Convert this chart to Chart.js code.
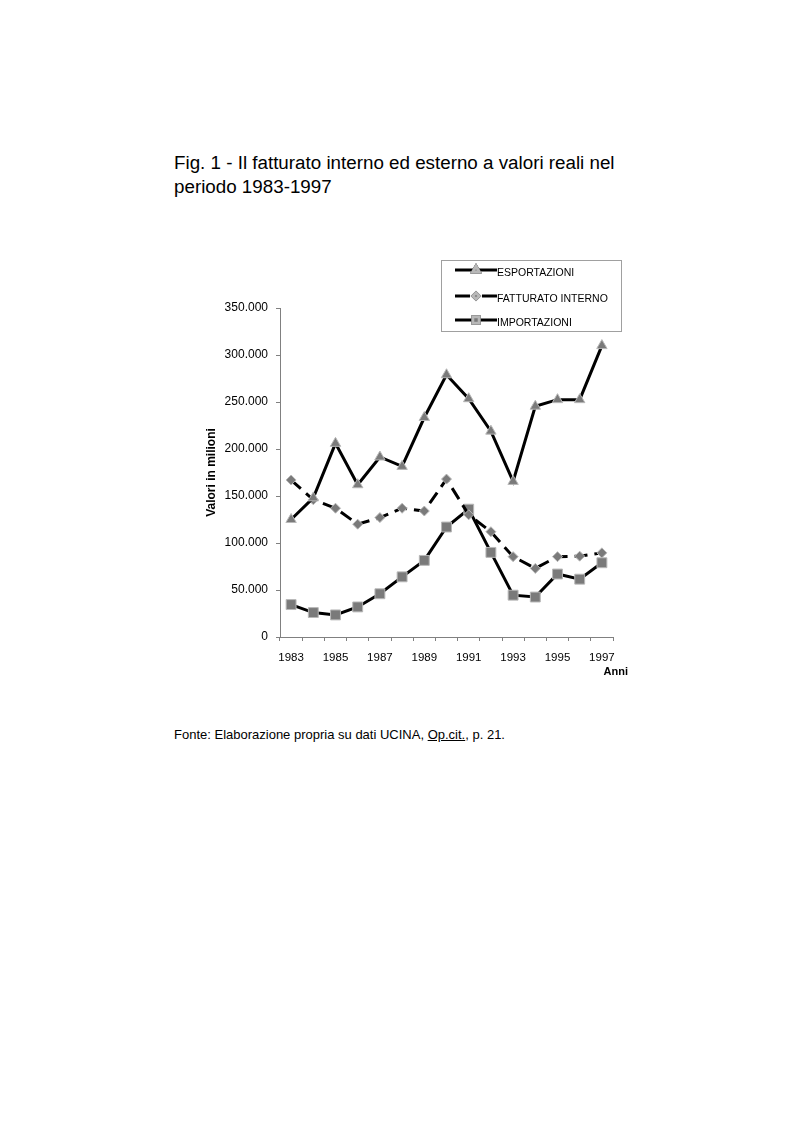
<!DOCTYPE html>
<html>
<head>
<meta charset="utf-8">
<script src="https://cdn.jsdelivr.net/npm/chart.js@4.4.0/dist/chart.umd.min.js"></script>
<style>
  html, body { margin: 0; padding: 0; background: #fff; }
  body { width: 793px; height: 1123px; position: relative; font-family: "Liberation Sans", Arial, sans-serif; color: #000; }
  #title { position: absolute; left: 174px; top: 151px; font-size: 18.8px; line-height: 24px; }
  #source { position: absolute; left: 174px; top: 727px; font-size: 13px; }
  #wrap { position: absolute; left: 190px; top: 250px; width: 440px; height: 440px; }
</style>
</head>
<body>
<div id="title">Fig. 1 - Il fatturato interno ed esterno a valori reali nel<br>periodo 1983-1997</div>
<div id="wrap"><canvas id="c" width="440" height="440"></canvas></div>
<div id="source">Fonte: Elaborazione propria su dati UCINA, <u>Op.cit.</u>, p. 21.</div>
<script>
const years = ["1983","1984","1985","1986","1987","1988","1989","1990","1991","1992","1993","1994","1995","1996","1997"];
const esportazioni = [125000,148000,206000,162000,191500,181500,233500,279000,253500,219000,165500,245500,252500,252500,310000];
const fatturatoInterno = [167000,146000,137000,120000,127000,137000,134000,168000,130000,112000,85500,73000,85500,86000,89500];
const importazioni = [34500,26000,23500,32000,46000,64000,81500,117000,136000,90000,44500,42500,67000,61500,79000];
const yTicks = [0,50000,100000,150000,200000,250000,300000,350000];

function fmt(v){ return v === 0 ? "0" : v.toString().replace(/\B(?=(\d{3})+(?!\d))/g, "."); }

const legendPlugin = {
  id: 'customLegend',
  afterDraw(chart) {
    const ctx = chart.ctx;
    const bx = 441 - 190, by = 260 - 250, bw = 180, bh = 71;
    ctx.save();
    ctx.strokeStyle = '#a0a0a0';
    ctx.lineWidth = 1;
    ctx.strokeRect(bx + 0.5, by + 0.5, bw, bh);
    const rows = [270, 296, 320];
    chart.data.datasets.forEach((ds, i) => {
      const y = rows[i] - 250;
      const x0 = 455 - 190, x1 = 497 - 190, xm = (x0 + x1) / 2;
      ctx.strokeStyle = ds.borderColor;
      ctx.lineWidth = ds.borderWidth;
      ctx.beginPath();
      if (ds.borderDash) {
        ctx.moveTo(x0, y); ctx.lineTo(xm - 6, y);
        ctx.moveTo(xm + 6, y); ctx.lineTo(x1, y);
      } else {
        ctx.moveTo(x0, y); ctx.lineTo(x1, y);
      }
      ctx.stroke();
      Chart.helpers.drawPoint(ctx, {
        pointStyle: ds.pointStyle, radius: ds.pointRadius * 0.65, borderWidth: 1
      }, xm, y);
      ctx.fillStyle = ds.pointBackgroundColor;
      ctx.strokeStyle = ds.pointBorderColor;
      ctx.fill(); ctx.stroke();
      ctx.fillStyle = '#000';
      ctx.font = '10.5px "Liberation Sans", Arial, sans-serif';
      ctx.textBaseline = 'middle';
      ctx.textAlign = 'left';
      ctx.fillText(ds.label, x1, y + 3);
    });
    ctx.font = 'bold 11px "Liberation Sans", Arial, sans-serif';
    ctx.textAlign = 'right';
    ctx.textBaseline = 'middle';
    ctx.fillStyle = '#000';
    ctx.fillText('Anni', 628 - 190, 672 - 250);
    ctx.restore();
  }
};

const ptCommon = { pointBackgroundColor: '#7a7a7a', pointBorderColor: '#b8b8b8', pointBorderWidth: 1, borderColor: '#000', borderWidth: 3, tension: 0, fill: false };

new Chart(document.getElementById('c'), {
  type: 'line',
  data: {
    labels: years,
    datasets: [
      Object.assign({ label: 'ESPORTAZIONI', data: esportazioni, pointStyle: 'triangle', pointRadius: 6 }, ptCommon),
      Object.assign({ label: 'FATTURATO INTERNO', data: fatturatoInterno, pointStyle: 'rectRot', pointRadius: 5, borderDash: [13, 7] }, ptCommon),
      Object.assign({ label: 'IMPORTAZIONI', data: importazioni, pointStyle: 'rect', pointRadius: 7 }, ptCommon)
    ]
  },
  options: {
    responsive: false,
    animation: false,
    devicePixelRatio: 1,
    layout: { padding: { top: 58, right: 17, bottom: 13, left: 0 } },
    plugins: { legend: { display: false }, tooltip: { enabled: false } },
    scales: {
      x: {
        type: 'category',
        offset: true,
        grid: { offset: true, drawOnChartArea: false, drawTicks: true, tickLength: 4, color: '#808080' },
        border: { color: '#808080', width: 1 },
        ticks: {
          autoSkip: false, maxRotation: 0, color: '#000', padding: 10,
          font: { family: '"Liberation Sans", Arial, sans-serif', size: 11.5 },
          callback: function(v, i) { return i % 2 === 0 ? this.getLabelForValue(v) : ''; }
        },
        afterFit(s) { s.height = 40; }
      },
      y: {
        min: 0, max: 350000,
        afterBuildTicks(s) { s.ticks = yTicks.map(v => ({ value: v })); },
        grid: { drawOnChartArea: false, drawTicks: true, tickLength: 4, color: '#808080' },
        border: { color: '#808080', width: 1 },
        ticks: {
          color: '#000', padding: 8,
          font: { family: '"Liberation Sans", Arial, sans-serif', size: 12 },
          callback: v => fmt(v)
        },
        title: {
          display: true, text: 'Valori in milioni', color: '#000',
          font: { family: '"Liberation Sans", Arial, sans-serif', size: 12, weight: 'bold' },
          padding: { top: 14, bottom: 0 }
        },
        afterFit(s) { s.width = 90; }
      }
    }
  },
  plugins: [legendPlugin]
});
</script>
</body>
</html>
